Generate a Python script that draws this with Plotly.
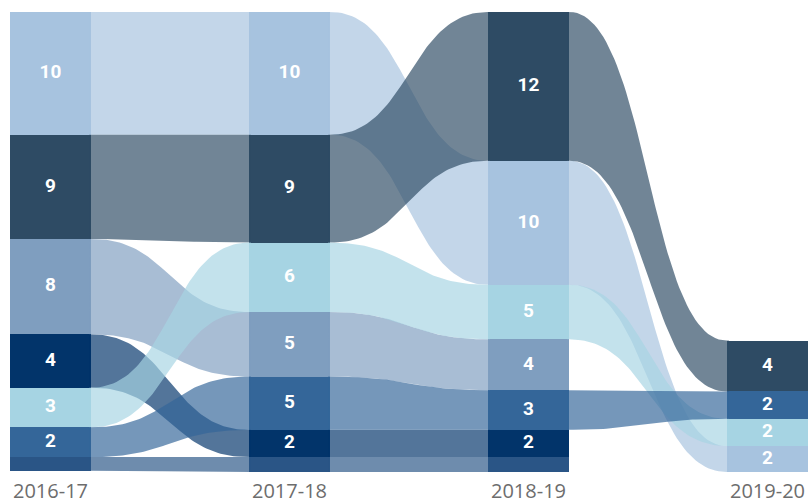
import numpy as np
import plotly.graph_objects as go

# ---- data ----
years = ["2016-17", "2017-18", "2018-19", "2019-20"]

# stacking order (top -> bottom) of each entity per year
order_1617 = ["A", "B", "C", "D", "E", "F", "G"]
order_1718 = ["A", "B", "E", "C", "F", "D", "G"]
order_1819 = ["B", "A", "E", "C", "F", "D", "G"]
order_1920 = ["B", "F", "E", "A"]

# shown labels (rounded values)
labels_1617 = ["10", "9", "8", "4", "3", "2", ""]
labels_1718 = ["10", "9", "6", "5", "5", "2", ""]
labels_1819 = ["12", "10", "5", "4", "3", "2", ""]
labels_1920 = ["4", "2", "2", "2"]

# drawn sizes
sizes_1617 = [9.9, 8.4, 7.7, 4.3, 3.2, 2.4, 1.1]
sizes_1718 = [9.9, 8.7, 5.6, 5.2, 4.3, 2.2, 1.2]
sizes_1819 = [12.0, 10.0, 4.4, 4.1, 3.2, 2.2, 1.2]
sizes_1920 = [4.1, 2.2, 2.2, 2.1]

colors = {
    "A": "#a7c3df",
    "B": "#2e4b64",
    "C": "#7f9ebf",
    "D": "#02346a",
    "E": "#a6d4e3",
    "F": "#346699",
    "G": "#2a5586",
}

orders = [order_1617, order_1718, order_1819, order_1920]
labels = [labels_1617, labels_1718, labels_1819, labels_1920]
sizes = [sizes_1617, sizes_1718, sizes_1819, sizes_1920]

NODE_W = 0.343
FLOW_ALPHA = 0.68

ymax = max(sum(s) for s in sizes)

# compute node extents; last column aligned at bottom
nodes = []  # per column: dict entity -> (top, bottom, label)
for ci, (o, l, s) in enumerate(zip(orders, labels, sizes)):
    total = sum(s)
    start = 0.0 if ci < len(orders) - 1 else ymax - total
    d = {}
    y = start
    for ent, lab, sz in zip(o, l, s):
        d[ent] = (y, y + sz, lab)
        y += sz
    nodes.append(d)


def hex_rgba(h, a):
    h = h.lstrip("#")
    r, g, b = int(h[0:2], 16), int(h[2:4], 16), int(h[4:6], 16)
    return f"rgba({r},{g},{b},{a})"


def bezier(x0, y0, x1, y1, n=60):
    t = np.linspace(0, 1, n)
    xm = (x0 + x1) / 2
    px = [x0, xm, xm, x1]
    py = [y0, y0, y1, y1]
    bx = ((1 - t) ** 3) * px[0] + 3 * ((1 - t) ** 2) * t * px[1] + 3 * (1 - t) * t ** 2 * px[2] + t ** 3 * px[3]
    by = ((1 - t) ** 3) * py[0] + 3 * ((1 - t) ** 2) * t * py[1] + 3 * (1 - t) * t ** 2 * py[2] + t ** 3 * py[3]
    # short flat overlap under the nodes to avoid hairline gaps
    ov = 0.01
    bx = np.concatenate([[x0 - ov], bx, [x1 + ov]])
    by = np.concatenate([[y0], by, [y1]])
    return bx, by


fig = go.Figure()

# ribbons
for ci in range(len(orders) - 1):
    a, b = nodes[ci], nodes[ci + 1]
    for ent in colors:
        if ent in a and ent in b:
            x0 = ci + NODE_W
            x1 = ci + 1
            tx, ty = bezier(x0, a[ent][0], x1, b[ent][0])
            bx, by = bezier(x0, a[ent][1], x1, b[ent][1])
            xs = np.concatenate([tx, bx[::-1]])
            ys = np.concatenate([ty, by[::-1]])
            fig.add_trace(go.Scatter(
                x=xs, y=ys, fill="toself", mode="lines",
                line=dict(width=0), fillcolor=hex_rgba(colors[ent], FLOW_ALPHA),
                hoverinfo="skip", showlegend=False,
            ))

# nodes as bars
for ci, d in enumerate(nodes):
    for ent, (top, bot, lab) in d.items():
        fig.add_trace(go.Bar(
            x=[ci + NODE_W / 2], y=[bot - top], base=[top], width=NODE_W,
            marker=dict(color=colors[ent], line=dict(width=0)),
            hoverinfo="skip", showlegend=False,
        ))

# node labels
tx, ty, tt = [], [], []
for ci, d in enumerate(nodes):
    for ent, (top, bot, lab) in d.items():
        if lab:
            tx.append(ci + NODE_W / 2)
            ty.append((top + bot) / 2)
            tt.append(lab)
fig.add_trace(go.Scatter(
    x=tx, y=ty, text=tt, mode="text",
    textfont=dict(color="white", size=19, family="Roboto", weight="bold"),
    hoverinfo="skip", showlegend=False,
))

fig.update_layout(
    width=812, height=504,
    margin=dict(l=0, r=0, t=12, b=32),
    paper_bgcolor="white", plot_bgcolor="white",
    barmode="overlay", bargap=0,
    hovermode=False,
    xaxis=dict(
        range=[-9.5 / 239, (812 - 9.5) / 239],
        tickvals=[i + NODE_W / 2 for i in range(len(years))],
        ticktext=years,
        tickfont=dict(size=20, color="#6d6d6d", family="Open Sans"),
        showgrid=False, zeroline=False, showline=False, ticks="",
        ticklabelstandoff=5,
        fixedrange=True,
    ),
    yaxis=dict(
        range=[ymax, 0],
        visible=False, showgrid=False, zeroline=False,
        fixedrange=True,
    ),
)

fig.write_html(
    "out.html",
    config={"displayModeBar": False},
    post_script="document.body.style.margin='0';",
)
